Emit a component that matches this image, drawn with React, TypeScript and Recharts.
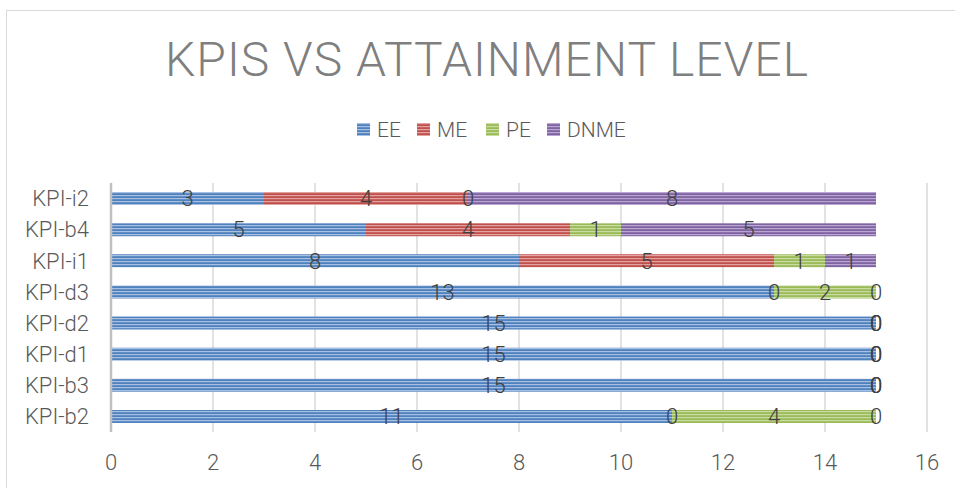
import React from 'react';
import { BarChart, Bar, XAxis, YAxis, CartesianGrid, LabelList } from 'recharts';

const categories = ['KPI-i2', 'KPI-b4', 'KPI-i1', 'KPI-d3', 'KPI-d2', 'KPI-d1', 'KPI-b3', 'KPI-b2'];
const EE = [3, 5, 8, 13, 15, 15, 15, 11];
const ME = [4, 4, 5, 0, 0, 0, 0, 0];
const PE = [0, 1, 1, 2, 0, 0, 0, 4];
const DNME = [8, 5, 1, 0, 0, 0, 0, 0];
const xTicks = [0, 2, 4, 6, 8, 10, 12, 14, 16];
const seriesNames = ['EE', 'ME', 'PE', 'DNME'];
const seriesValues = [EE, ME, PE, DNME];
const seriesColors = ['#4F81BD', '#C0504D', '#9BBB59', '#8064A2'];
const stripeColors = ['#A7C0E4', '#E3A3A1', '#C9DCA3', '#B9A6D2'];
const title = 'KPIS VS ATTAINMENT LEVEL';

const data = categories.map((name, i) => ({
  name,
  EE: EE[i],
  ME: ME[i],
  PE: PE[i],
  DNME: DNME[i],
}));

const FONT = 'Roboto, "Open Sans", sans-serif';

const Patterns = ({ prefix }: { prefix: string }) => (
  <defs>
    {seriesNames.map((s, i) => (
      <pattern key={s} id={`${prefix}-${s}`} width="6" height="3" patternUnits="userSpaceOnUse">
        <rect x="0" y="0" width="6" height="3" fill={seriesColors[i]} />
        <rect x="0" y="0" width="6" height="1.2" fill={stripeColors[i]} />
      </pattern>
    ))}
  </defs>
);

const legendX = [357, 417, 486, 547];

const labelText = (key: string, cx: number, cy: number, v: number) => (
  <text
    key={key}
    x={cx}
    y={cy}
    dy="0.355em"
    textAnchor="middle"
    fill="#404040"
    fontSize={22}
    fontFamily={FONT}
    fontWeight={300}
  >
    {v}
  </text>
);

const makeLabel = (seriesIdx: number) => (props: any) => {
  const vb = props.viewBox || {};
  const x = Number(props.x ?? vb.x);
  const y = Number(props.y ?? vb.y);
  const width = Number(props.width ?? vb.width);
  const height = Number(props.height ?? vb.height);
  const value = Number(props.value);
  const index = props.index;
  const cy = y + height / 2;
  const out: any[] = [];
  if (value !== 0) {
    out.push(labelText(`v-${seriesIdx}-${index}`, x + width / 2, cy, value));
  }
  if (seriesIdx === 0 && value !== 0) {
    // zero-value segments: place their labels at the stack boundary using the EE segment's scale
    const pxPerUnit = width / value;
    let cum = value;
    for (let j = 1; j < seriesValues.length; j++) {
      const v = seriesValues[j][index];
      if (v === 0) {
        out.push(labelText(`z-${j}-${index}`, x + cum * pxPerUnit, cy, 0));
      }
      cum += v;
    }
  }
  return <g>{out}</g>;
};

export default function App() {
  return (
    <div style={{ position: 'absolute', left: 0, top: 0, width: 955, height: 488, overflow: 'hidden', background: '#fff' }}>
      <div
        style={{
          position: 'absolute',
          left: 6,
          top: 10,
          width: 1200,
          height: 800,
          border: '1.5px solid #D9D9D9',
          boxSizing: 'border-box',
        }}
      />
      <svg width={955} height={488} style={{ position: 'absolute', left: 0, top: 0 }}>
        <Patterns prefix="lg" />
        <text
          x={486.5}
          y={76}
          textAnchor="middle"
          fontFamily={FONT}
          fontWeight={300}
          fontSize={48}
          fill="#7F7F7F"
          textLength={643}
          lengthAdjust="spacing"
        >
          {title}
        </text>
        {seriesNames.map((s, i) => (
          <g key={s}>
            <rect x={legendX[i]} y={123} width={13} height={13} fill={`url(#lg-${s})`} />
            <text x={legendX[i] + 20} y={137} fontFamily={FONT} fontWeight={300} fontSize={21} fill="#595959">
              {s}
            </text>
          </g>
        ))}
      </svg>
      <div style={{ position: 'absolute', left: 0, top: 0 }}>
        <BarChart
          width={955}
          height={488}
          data={data}
          layout="vertical"
          margin={{ top: 183, right: 28, bottom: 26, left: 0 }}
          barSize={13}
        >
          <Patterns prefix="bar" />
          <CartesianGrid horizontal={false} stroke="#D9D9D9" strokeWidth={1.5} />
          <XAxis
            type="number"
            domain={[0, 16]}
            ticks={xTicks}
            axisLine={false}
            tickLine={false}
            tickSize={0}
            tickMargin={22}
            height={30}
            tick={{ fill: '#595959', fontSize: 22, fontFamily: FONT, fontWeight: 300 }}
          />
          <YAxis
            type="category"
            dataKey="name"
            width={111}
            axisLine={{ stroke: '#BFBFBF', strokeWidth: 2.5 }}
            tickLine={false}
            tickSize={0}
            tickMargin={22}
            tick={{ fill: '#595959', fontSize: 22, fontFamily: FONT, fontWeight: 300 }}
          />
          {seriesNames.map((s, i) => (
            <Bar key={s} dataKey={s} stackId="a" fill={`url(#bar-${s})`} isAnimationActive={false}>
              <LabelList dataKey={s} content={makeLabel(i)} />
            </Bar>
          ))}
        </BarChart>
      </div>
    </div>
  );
}
